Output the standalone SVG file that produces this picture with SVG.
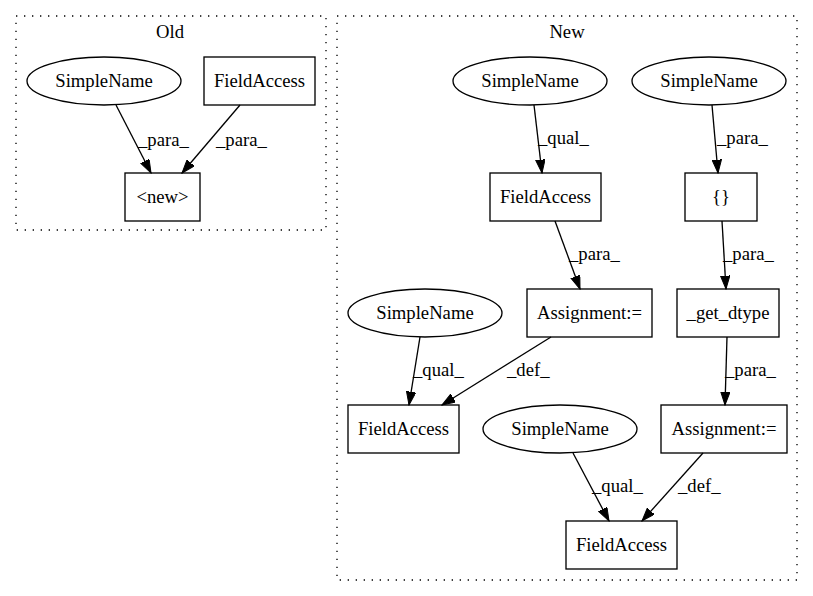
<svg xmlns="http://www.w3.org/2000/svg" width="813" height="596" viewBox="0 0 813 596">
  <style>
    text { font-family: "Liberation Serif", "Times New Roman", serif; font-size: 18.67px; fill: #000; }
    .c { text-anchor: middle; }
    .node ellipse, .node rect { fill: none; stroke: #000; stroke-width: 1.33; }
    .cluster { fill: none; stroke: #000; stroke-width: 1.33; stroke-dasharray: 1.33 6.67; }
    .edges line { stroke: #000; stroke-width: 1.33; marker-end: url(#arrow); }
  </style>
  <defs>
    <marker id="arrow" markerUnits="userSpaceOnUse" markerWidth="14" markerHeight="10" refX="13.3" refY="4.7" orient="auto">
      <path d="M0,0 L13.3,4.7 L0,9.4 Z" fill="#000" stroke="#000" stroke-width="1"/>
    </marker>
  </defs>
  <rect width="813" height="596" fill="#fff"/>

  <!-- clusters -->
  <g id="cluster_old">
    <rect class="cluster" x="16" y="16" width="310" height="214"/>
    <text class="c" x="170" y="38">Old</text>
  </g>
  <g id="cluster_new">
    <rect class="cluster" x="337" y="16" width="460" height="564"/>
    <text class="c" x="567" y="38">New</text>
  </g>

  <!-- Old nodes -->
  <g id="old_simplename" class="node">
    <ellipse cx="104" cy="81" rx="77" ry="24"/>
    <text class="c" x="104" y="87">SimpleName</text>
  </g>
  <g id="old_fieldaccess" class="node">
    <rect x="204" y="57" width="111" height="48"/>
    <text class="c" x="259.5" y="87">FieldAccess</text>
  </g>
  <g id="old_new" class="node">
    <rect x="125" y="173" width="75" height="48"/>
    <text class="c" x="162.5" y="203">&lt;new&gt;</text>
  </g>

  <!-- New nodes -->
  <g id="new_simplename1" class="node">
    <ellipse cx="530" cy="81" rx="77" ry="24"/>
    <text class="c" x="530" y="87">SimpleName</text>
  </g>
  <g id="new_simplename2" class="node">
    <ellipse cx="709" cy="81" rx="77" ry="24"/>
    <text class="c" x="709" y="87">SimpleName</text>
  </g>
  <g id="new_fieldaccess1" class="node">
    <rect x="490" y="173" width="111" height="48"/>
    <text class="c" x="545.5" y="203">FieldAccess</text>
  </g>
  <g id="new_braces" class="node">
    <rect x="685" y="173" width="72" height="48"/>
    <text class="c" x="721" y="203">{}</text>
  </g>
  <g id="new_assignment1" class="node">
    <rect x="527" y="289" width="125" height="48"/>
    <text class="c" x="589.5" y="319">Assignment:=</text>
  </g>
  <g id="new_get_dtype" class="node">
    <rect x="677" y="289" width="102" height="48"/>
    <text class="c" x="728" y="319">_get_dtype</text>
  </g>
  <g id="new_simplename3" class="node">
    <ellipse cx="425" cy="313" rx="77" ry="24"/>
    <text class="c" x="425" y="319">SimpleName</text>
  </g>
  <g id="new_fieldaccess2" class="node">
    <rect x="348" y="405" width="111" height="48"/>
    <text class="c" x="403.5" y="435">FieldAccess</text>
  </g>
  <g id="new_simplename4" class="node">
    <ellipse cx="560" cy="429" rx="77" ry="24"/>
    <text class="c" x="560" y="435">SimpleName</text>
  </g>
  <g id="new_assignment2" class="node">
    <rect x="661" y="405" width="126" height="48"/>
    <text class="c" x="724" y="435">Assignment:=</text>
  </g>
  <g id="new_fieldaccess3" class="node">
    <rect x="566" y="521" width="111" height="48"/>
    <text class="c" x="621.5" y="551">FieldAccess</text>
  </g>

  <!-- connectors -->
  <g id="edges" class="edges">
    <line x1="116" y1="105" x2="151" y2="173"/>
    <text x="138" y="146">_para_</text>
    <line x1="240" y1="105" x2="182" y2="173"/>
    <text x="216" y="146">_para_</text>

    <line x1="534" y1="105" x2="542" y2="173"/>
    <text x="538" y="144">_qual_</text>
    <line x1="712" y1="105" x2="718" y2="173"/>
    <text x="717" y="144">_para_</text>

    <line x1="555" y1="221" x2="580" y2="289"/>
    <text x="569" y="260">_para_</text>
    <line x1="722" y1="221" x2="726" y2="289"/>
    <text x="723" y="260">_para_</text>

    <line x1="420" y1="337" x2="409" y2="405"/>
    <text x="413" y="376">_qual_</text>
    <line x1="551" y1="337" x2="442" y2="405"/>
    <text x="507" y="376">_def_</text>
    <line x1="727" y1="337" x2="725" y2="405"/>
    <text x="725" y="376">_para_</text>

    <line x1="573" y1="453" x2="609" y2="521"/>
    <text x="592" y="492">_qual_</text>
    <line x1="703" y1="453" x2="642" y2="521"/>
    <text x="678" y="492">_def_</text>
  </g>
</svg>
